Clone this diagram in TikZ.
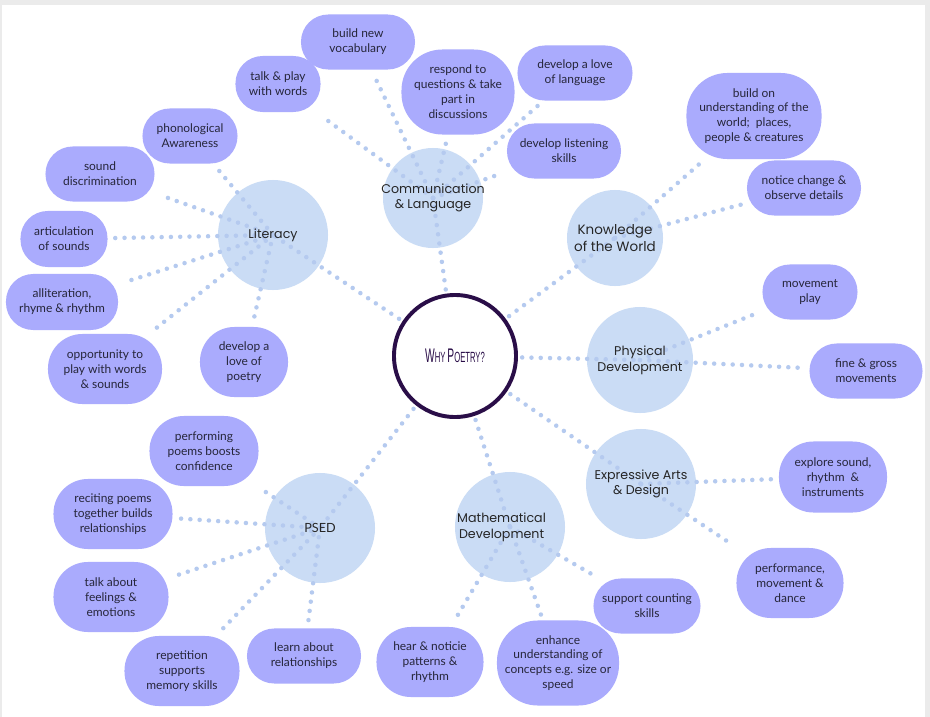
\documentclass[tikz,border=0pt]{standalone}
\usepackage{fontspec}
\usepackage{graphicx}
\setmainfont{Lato}
\newfontfamily\catfont{Poppins}
\newfontfamily\whyfont{Liberation Sans}
\usetikzlibrary{positioning}
\definecolor{leafc}{HTML}{AAABFD}
\definecolor{catc}{HTML}{CADCF5}
\definecolor{dotc}{HTML}{B5CAEF}
\definecolor{whyc}{HTML}{2A0E48}
\definecolor{inkc}{HTML}{26263A}
\definecolor{pagec}{HTML}{EBEBEB}
\pgfdeclarelayer{back}
\pgfdeclarelayer{links}
\pgfsetlayers{back,links,main}
\tikzset{
  cat/.style={circle,fill=catc,inner sep=0pt},
  cattext/.style={align=center,text=black!85,font=\catfont\fontsize{9}{11.2}\selectfont},
  leaf/.style={rectangle,rounded corners=0.68cm,fill=leafc,text=inkc,inner sep=0pt,
    minimum width=2.85cm,minimum height=1.375cm,align=center,font=\fontsize{8.5}{10.6}\selectfont},
  tall/.style={leaf,rounded corners=0.86cm,minimum height=1.75cm},
  taller/.style={leaf,rounded corners=1.02cm,minimum height=2.125cm},
  dots/.style={dotc,line width=3.2pt,line cap=round,dash pattern=on 0pt off 6.6pt,
    shorten >=4pt}
}
\begin{document}
\begin{tikzpicture}[x=0.025cm,y=-0.025cm]
\useasboundingbox (0,0) rectangle (930,717);

% page and the seven areas
\begin{pgfonlayer}{back}
\fill[pagec] (0,0) rectangle (930,717);
\fill[white] (2,5) rectangle (925,717);
\node[cat,minimum size=2.5cm] (comm) at (433,198) {};
\node[cat,minimum size=2.75cm] (lit) at (273,235) {};
\node[cat,minimum size=2.4cm] (know) at (615,238) {};
\node[cat,minimum size=2.65cm] (phys) at (640,360) {};
\node[cat,minimum size=2.75cm] (expr) at (641,484) {};
\node[cat,minimum size=2.75cm] (math) at (510,527) {};
\node[cat,minimum size=2.75cm] (psed) at (320,528) {};
\end{pgfonlayer}
\node[cattext] (commtxt) at (comm) {Communication\\\& Language};
\node[cattext] (littxt) at (lit) {Literacy};
\node[cattext,font=\catfont\fontsize{9.6}{11.6}\selectfont] (knowtxt) at (know) {Knowledge\\of the World};
\node[cattext] (phystxt) at (phys) {Physical\\Development};
\node[cattext] (exprtxt) at (expr) {Expressive Arts\\\& Design};
\node[cattext] (mathtxt) at ([xshift=-6]math) {Mathematical\\Development};
\node[cattext,font=\fontsize{9}{11}\selectfont] (psedtxt) at (psed) {PSED};

% centre
\node[circle,draw=whyc,line width=2.8pt,fill=white,minimum size=3.05cm,text=whyc] (why) at (455,356)
  {\whyfont\scalebox{0.52}[1]{{\fontsize{14}{16}\selectfont W}{\fontsize{10.5}{12}\selectfont HY}
   {\fontsize{14}{16}\selectfont P}{\fontsize{10.5}{12}\selectfont OETRY?}}};

% communication & language
\node[leaf] (vocab) at (358,42) {build new\\vocabulary};
\node[leaf,minimum width=2.125cm,minimum height=1.4cm] (talk) at (278,84) {talk \& play\\with words};
\node[taller,minimum width=2.825cm] (respond) at (458,92) {respond to\\questions \& take\\part in\\discussions};
\node[leaf,minimum width=2.875cm] (lovelang) at (575,73) {develop a love\\of language};
\node[leaf] (listen) at (564,151) {develop listening\\skills};

% literacy
\node[leaf,minimum width=2.375cm] (phono) at (190,136) {phonological\\Awareness};
\node[leaf,minimum width=2.725cm] (sound) at (100,174) {sound\\discrimination};
\node[leaf,minimum width=2.175cm,minimum height=1.4cm] (artic) at (64,239) {articulation\\of sounds};
\node[leaf,minimum width=2.8cm,minimum height=1.4cm] (allit) at (62,302) {alliteration,\\rhyme \& rhythm};
\node[tall,minimum width=2.85cm] (oppor) at (105,369) {opportunity to\\play with words\\\& sounds};
\node[tall,minimum width=2.2cm] (lovepoet) at (244,362) {develop a\\love of\\poetry};

% knowledge of the world
\node[taller,minimum width=3.375cm,minimum height=2.15cm] (world) at (754,116) {build on\\understanding of the\\world;~ places,\\people \& creatures};
\node[leaf] (notice) at (804,188) {notice change \&\\observe details};

% physical development
\node[leaf,minimum width=2.375cm] (moveplay) at (810,292) {movement\\play};
\node[leaf,minimum width=2.825cm] (fine) at (866,371) {fine \& gross\\movements};

% expressive arts & design
\node[tall,minimum width=2.7cm,minimum height=1.775cm] (explore) at (833,477) {explore sound,\\rhythm~ \&\\instruments};
\node[tall,minimum width=2.675cm] (perform) at (790,583) {performance,\\movement \&\\dance};

% mathematical development
\node[leaf,minimum width=2.675cm] (count) at (647,606) {support counting\\skills};
\node[taller,minimum width=3.05cm] (enhance) at (558,663) {enhance\\understanding of\\concepts e.g. size or\\speed};
\node[tall,minimum width=2.675cm] (hear) at (430,662) {hear \& noticie\\patterns \&\\rhythm};

% psed
\node[tall,minimum width=2.725cm] (boost) at (204,451) {performing\\poems boosts\\confidence};
\node[tall,minimum width=2.975cm] (recite) at (113,514) {reciting poems\\together builds\\relationships};
\node[tall,minimum width=2.875cm] (feel) at (111,597) {talk about\\feelings \&\\emotions};
\node[tall,minimum width=2.875cm] (repeat) at (182,671) {repetition\\supports\\memory skills};
\node[leaf] (learn) at (304,656) {learn about\\relationships};

% dotted links, under the labels
\begin{pgfonlayer}{links}
\foreach \c in {comm,lit,know,phys,expr,math,psed}
  \draw[dots,shorten <=3pt,shorten >=0pt] (why) -- (\c.center);
\foreach \c/\l in {comm/vocab,comm/talk,comm/respond,comm/lovelang,comm/listen,
  lit/phono,lit/sound,lit/artic,lit/allit,lit/oppor,lit/lovepoet,
  know/world,know/notice,phys/moveplay,phys/fine,expr/explore,expr/perform,
  math/count,math/enhance,math/hear,
  psed/boost,psed/recite,psed/feel,psed/repeat,psed/learn}
  \draw[dots] (\c.center) -- (\l);
\end{pgfonlayer}
\end{tikzpicture}
\end{document}
